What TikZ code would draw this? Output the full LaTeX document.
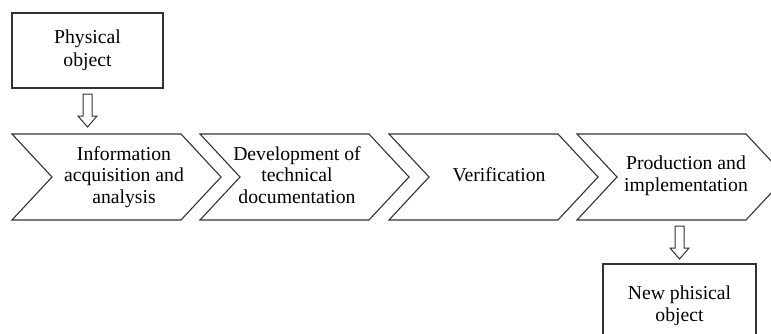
\documentclass[tikz,border=0pt]{standalone}
\usepackage{fontspec}
\setmainfont{Liberation Serif}
\begin{document}
\begin{tikzpicture}[x=1pt,y=-1pt,
  line/.style={draw=black!80, line width=1.1pt, line join=miter},
  lbl/.style={align=center, inner sep=0pt, font=\fontsize{19.7}{21.6}\selectfont},
  boxnode/.style={line, rectangle, align=center, inner sep=0pt, font=\fontsize{19.7}{22.5}\selectfont},
  hollow/.style={line, line width=1pt, fill=white}]
\useasboundingbox (0,0) rectangle (771,333);
\clip (0,0) rectangle (771,333);
\fill[white] (0,0) rectangle (771,333);

% chevrons
\foreach \L/\n in {12/1,200/2,389/3,577/4}{
  \draw[line] (\L,134) -- ({\L+169},134) -- ({\L+209},177) -- ({\L+169},220)
     -- (\L,220) -- ({\L+40},177) -- cycle;
}

% labels
\node[lbl] (c1) at (124,177) {Information\\acquisition and\\analysis};
\node[lbl] (c2) at (297,175) {Development of\\technical\\documentation};
\node[lbl] (c3) at (499,175) {Verification};
\node[lbl] (c4) at (686,176) {Production and\\implementation};

% boxes
\node[boxnode, minimum width=151pt, minimum height=75pt] (phys) at (87.5,50.5) {Physical\\object};
\node[boxnode, minimum width=153pt, minimum height=84pt] (newobj) at (679.5,306) {New phisical\\object};

% hollow arrows
\coordinate (a1) at (87.5,94);
\coordinate (a2) at (679.5,226);
\foreach \a in {a1,a2}{
  \draw[hollow] (\a) ++(-4.5,0) -- ++(9,0) -- ++(0,22) -- ++(5,0) -- ++(-9.5,11)
     -- ++(-9.5,-11) -- ++(5,0) -- cycle;
}
\end{tikzpicture}
\end{document}
